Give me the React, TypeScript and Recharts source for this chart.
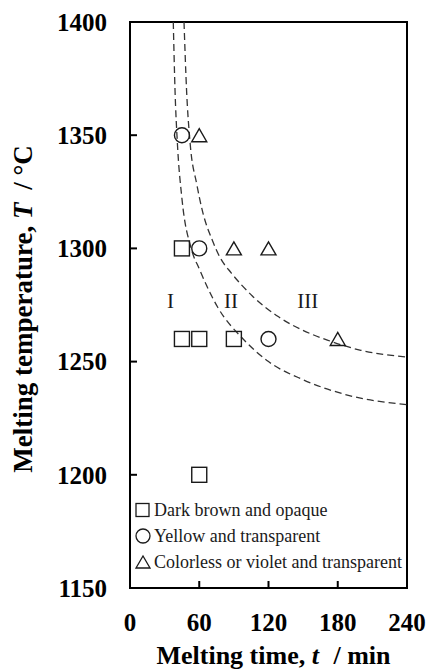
import React from 'react';
import { ComposedChart, XAxis, YAxis, Line, Scatter, ReferenceArea, Label, Legend } from 'recharts';

const xTicks = [0, 60, 120, 180, 240];
const yTicks = [1150, 1200, 1250, 1300, 1350, 1400];

const darkBrown = [
  { t: 45, T: 1300 },
  { t: 45, T: 1260 },
  { t: 60, T: 1260 },
  { t: 90, T: 1260 },
  { t: 60, T: 1200 },
];
const yellow = [
  { t: 45, T: 1350 },
  { t: 60, T: 1300 },
  { t: 120, T: 1260 },
];
const colorless = [
  { t: 60, T: 1350 },
  { t: 90, T: 1300 },
  { t: 120, T: 1300 },
  { t: 180, T: 1260 },
];

const innerBoundary = [
  { t: 37.5, T: 1400 },
  { t: 39, T: 1370 },
  { t: 41, T: 1347 },
  { t: 45, T: 1322 },
  { t: 53, T: 1300 },
  { t: 60, T: 1291 },
  { t: 76, T: 1274 },
  { t: 98, T: 1260 },
  { t: 120, T: 1250 },
  { t: 150, T: 1242 },
  { t: 190, T: 1235 },
  { t: 240, T: 1231 },
];
const outerBoundary = [
  { t: 46.8, T: 1400 },
  { t: 49, T: 1370 },
  { t: 52, T: 1347 },
  { t: 58, T: 1328 },
  { t: 63, T: 1316 },
  { t: 71, T: 1304 },
  { t: 78, T: 1296 },
  { t: 88, T: 1289 },
  { t: 106, T: 1279 },
  { t: 128, T: 1270 },
  { t: 149, T: 1264 },
  { t: 171, T: 1259.5 },
  { t: 200, T: 1255 },
  { t: 240, T: 1252 },
];

const regionLabels = [
  { t: 35, T: 1277, label: 'I' },
  { t: 87.5, T: 1277, label: 'II' },
  { t: 154, T: 1277, label: 'III' },
];

const legendItems = [
  { shape: 'square', text: 'Dark brown and opaque' },
  { shape: 'circle', text: 'Yellow and transparent' },
  { shape: 'triangle', text: 'Colorless or violet and transparent' },
];

const SERIF = "'Times New Roman', 'Liberation Serif', serif";
const INK = '#1a1a1a';

const SquareShape = (p: any) => (
  <rect x={p.cx - 7.5} y={p.cy - 7.5} width={15} height={15} fill="none" stroke={INK} strokeWidth={1.4} />
);
const CircleShape = (p: any) => (
  <circle cx={p.cx} cy={p.cy} r={7.5} fill="none" stroke={INK} strokeWidth={1.4} />
);
const TriangleShape = (p: any) => (
  <polygon
    points={`${p.cx - 7.5},${p.cy + 6.5} ${p.cx + 7.5},${p.cy + 6.5} ${p.cx},${p.cy - 6.5}`}
    fill="none"
    stroke={INK}
    strokeWidth={1.4}
    strokeLinejoin="miter"
  />
);
const RegionText = (p: any) => (
  <text x={p.cx} y={p.cy} dy="0.35em" textAnchor="middle" fontFamily={SERIF} fontSize={21} fill={INK}>
    {p.payload.label}
  </text>
);

const XTick = (p: any) => {
  const v = p.payload.value;
  const showLine = v !== 0 && v !== 240;
  return (
    <g>
      {showLine && <line x1={p.x} y1={p.y} x2={p.x} y2={p.y - 7} stroke="#000" strokeWidth={2} />}
      <text x={p.x} y={p.y + 43} textAnchor="middle" fontFamily={SERIF} fontWeight="bold" fontSize={25} fill="#000">
        {v}
      </text>
    </g>
  );
};
const YTick = (p: any) => {
  const v = p.payload.value;
  const showLine = v !== 1150 && v !== 1400;
  return (
    <g>
      {showLine && <line x1={p.x} y1={p.y} x2={p.x + 7} y2={p.y} stroke="#000" strokeWidth={2} />}
      <text x={p.x - 23} y={p.y} dy="0.35em" textAnchor="end" fontFamily={SERIF} fontWeight="bold" fontSize={25} fill="#000">
        {v}
      </text>
    </g>
  );
};

const XTitle = (props: any) => {
  const vb = props.viewBox;
  return (
    <text x={vb.x + vb.width / 2 + 5} y={vb.y + 76} textAnchor="middle" fontFamily={SERIF} fontWeight="bold" fontSize={26} fill="#000">
      <tspan>Melting time, </tspan>
      <tspan fontStyle="italic">t</tspan>
      <tspan dx={8}> / min</tspan>
    </text>
  );
};
const YTitle = (props: any) => {
  const vb = props.viewBox;
  const cx = vb.x + 32;
  const cy = vb.y + vb.height / 2 + 4;
  return (
    <text x={cx} y={cy} transform={`rotate(-90, ${cx}, ${cy})`} textAnchor="middle" fontFamily={SERIF} fontWeight="bold" fontSize={27} fill="#000">
      <tspan>Melting temperature, </tspan>
      <tspan fontStyle="italic">T</tspan>
      <tspan dx={6}> / °C</tspan>
    </text>
  );
};

const LegendIcon = ({ shape }: { shape: string }) => (
  <svg width={16} height={16} style={{ marginRight: 3, flex: 'none' }}>
    {shape === 'square' && <rect x={1} y={1.5} width={13} height={13} fill="none" stroke={INK} strokeWidth={1.3} />}
    {shape === 'circle' && <circle cx={8} cy={8} r={7} fill="none" stroke={INK} strokeWidth={1.3} />}
    {shape === 'triangle' && <polygon points="1,14 15,14 8,2" fill="none" stroke={INK} strokeWidth={1.3} />}
  </svg>
);

const LegendBox = () => (
  <div style={{ fontFamily: SERIF, fontSize: 18, color: INK }}>
    {legendItems.map((it) => (
      <div key={it.text} style={{ display: 'flex', alignItems: 'center', height: 26, whiteSpace: 'nowrap' }}>
        <LegendIcon shape={it.shape} />
        <span>{it.text}</span>
      </div>
    ))}
  </div>
);

export default function App() {
  return (
    <div style={{ position: 'fixed', left: 0, top: 0, width: 428, height: 670, overflow: 'hidden', background: '#fff' }}>
      <ComposedChart width={428} height={670} margin={{ top: 22, right: 21, bottom: 0, left: 0 }}>
        <XAxis
          type="number"
          dataKey="t"
          domain={[0, 240]}
          ticks={xTicks}
          allowDataOverflow
          axisLine={false}
          tickLine={false}
          tickSize={0}
          tickMargin={0}
          height={82}
          tick={<XTick />}
          interval={0}
        >
          <Label content={<XTitle />} />
        </XAxis>
        <YAxis
          type="number"
          dataKey="T"
          domain={[1150, 1400]}
          ticks={yTicks}
          allowDataOverflow
          axisLine={false}
          tickLine={false}
          tickSize={0}
          tickMargin={0}
          width={130}
          tick={<YTick />}
          interval={0}
        >
          <Label content={<YTitle />} />
        </YAxis>
        <ReferenceArea x1={0} x2={240} y1={1150} y2={1400} fill="none" stroke="#000" strokeWidth={2} ifOverflow="visible" />
        <Line data={innerBoundary} dataKey="T" type="monotone" stroke="#333" strokeWidth={1.3} strokeDasharray="7 4" dot={false} activeDot={false} isAnimationActive={false} />
        <Line data={outerBoundary} dataKey="T" type="monotone" stroke="#333" strokeWidth={1.3} strokeDasharray="7 4" dot={false} activeDot={false} isAnimationActive={false} />
        <Scatter name="Dark brown and opaque" data={darkBrown} dataKey="T" shape={SquareShape} isAnimationActive={false} />
        <Scatter name="Yellow and transparent" data={yellow} dataKey="T" shape={CircleShape} isAnimationActive={false} />
        <Scatter name="Colorless or violet and transparent" data={colorless} dataKey="T" shape={TriangleShape} isAnimationActive={false} />
        <Scatter data={regionLabels} dataKey="T" shape={RegionText} isAnimationActive={false} legendType="none" />
        <Legend
          layout="vertical"
          align="center"
          verticalAlign="middle"
          content={<LegendBox />}
          wrapperStyle={{ left: 135, top: 497, width: 280, height: 80 }}
        />
      </ComposedChart>
    </div>
  );
}
